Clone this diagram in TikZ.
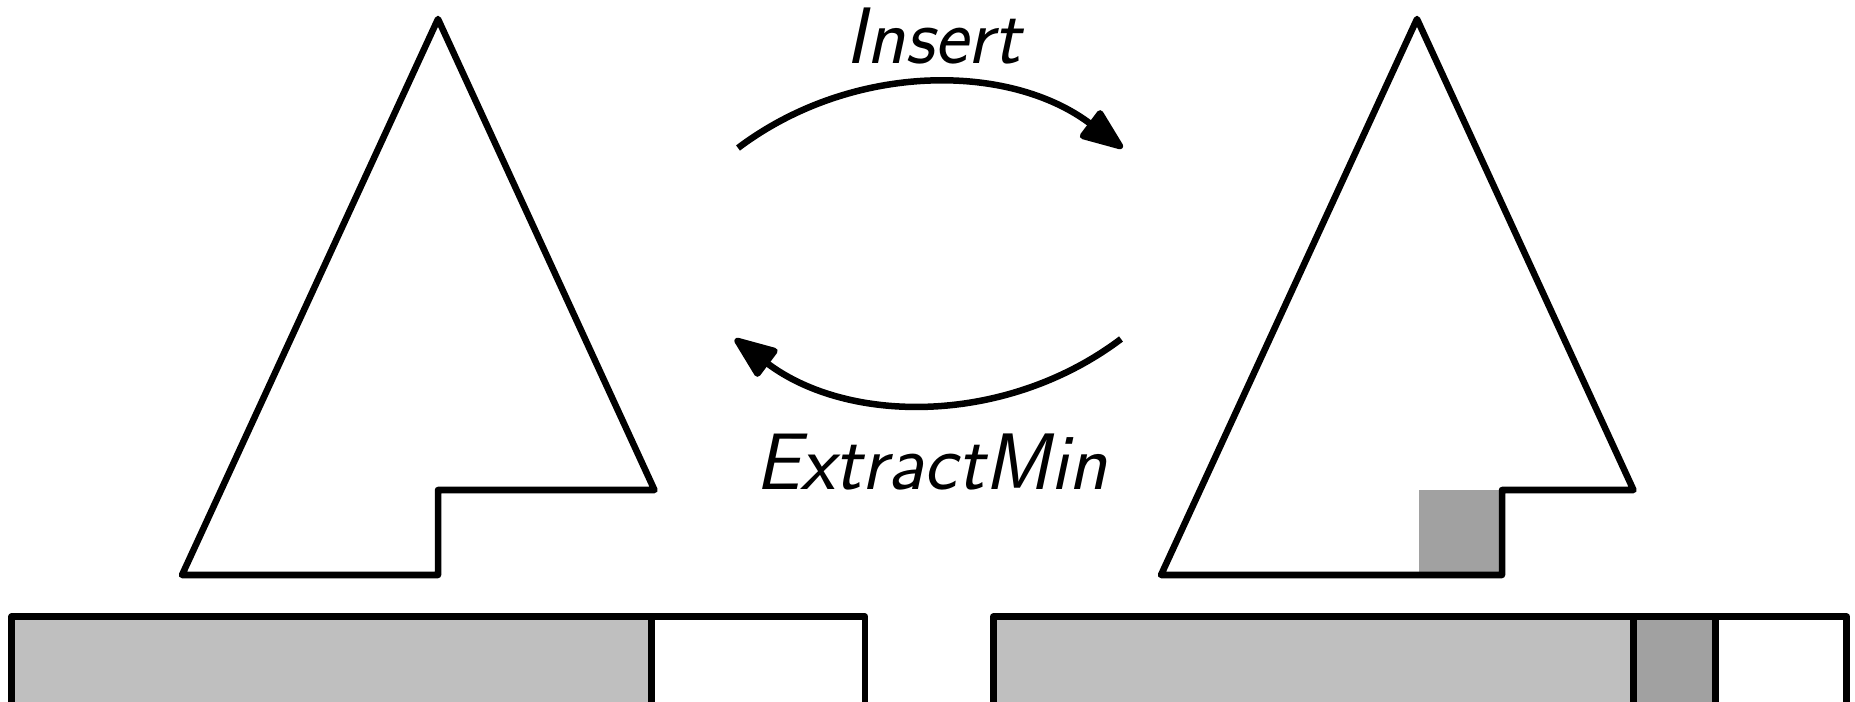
\documentclass[tikz,border=0pt]{standalone}
\usetikzlibrary{arrows.meta}
\definecolor{heapgray}{gray}{0.75}
\definecolor{newgray}{gray}{0.63}
\tikzset{
  heapline/.style={line width=1.85pt, line join=round},
  opname/.style={font=\fontsize{22.8}{27}\selectfont\sffamily\itshape, inner sep=0pt, anchor=base},
  oparrow/.style={line width=1.85pt, -{Triangle[length=4.8mm,width=3.6mm,round]}}
}
\begin{document}
\begin{tikzpicture}
  \clip (0,0) rectangle (18.55,7.01);
  % heap before
  \draw[heapline] (4.38,6.82)--(6.545,2.11)--(4.38,2.11)--(4.38,1.26)--(1.82,1.26)--cycle;
  \fill[heapgray] (0.117,-0.5) rectangle (6.517,0.843);
  \draw[heapline] (0.117,-0.5) rectangle (8.65,0.843);
  \draw[heapline] (6.517,-0.5)--(6.517,0.843);
  % heap after
  \fill[newgray] (14.19,1.26) rectangle (15.02,2.11);
  \draw[heapline] (14.17,6.82)--(16.335,2.11)--(15.02,2.11)--(15.02,1.26)--(11.61,1.26)--cycle;
  \fill[heapgray] (9.933,-0.5) rectangle (16.333,0.843);
  \fill[newgray] (16.333,-0.5) rectangle (17.157,0.843);
  \draw[heapline] (9.933,-0.5) rectangle (18.467,0.843);
  \draw[heapline] (16.333,-0.5)--(16.333,0.843);
  \draw[heapline] (17.157,-0.5)--(17.157,0.843);
  % operations
  \node[opname] (ins) at (9.33,6.377) {Insert};
  \node[opname] (ext) at (9.31,2.11) {ExtractMin};
  \coordinate (insA) at (7.38,5.53);
  \coordinate (insB) at (11.225,5.53);
  \coordinate (extA) at (11.21,3.62);
  \coordinate (extB) at (7.35,3.62);
  \draw[oparrow] (insA) to[bend left=37, looseness=0.95] (insB);
  \draw[oparrow] (extA) to[bend left=37, looseness=0.95] (extB);
\end{tikzpicture}
\end{document}
